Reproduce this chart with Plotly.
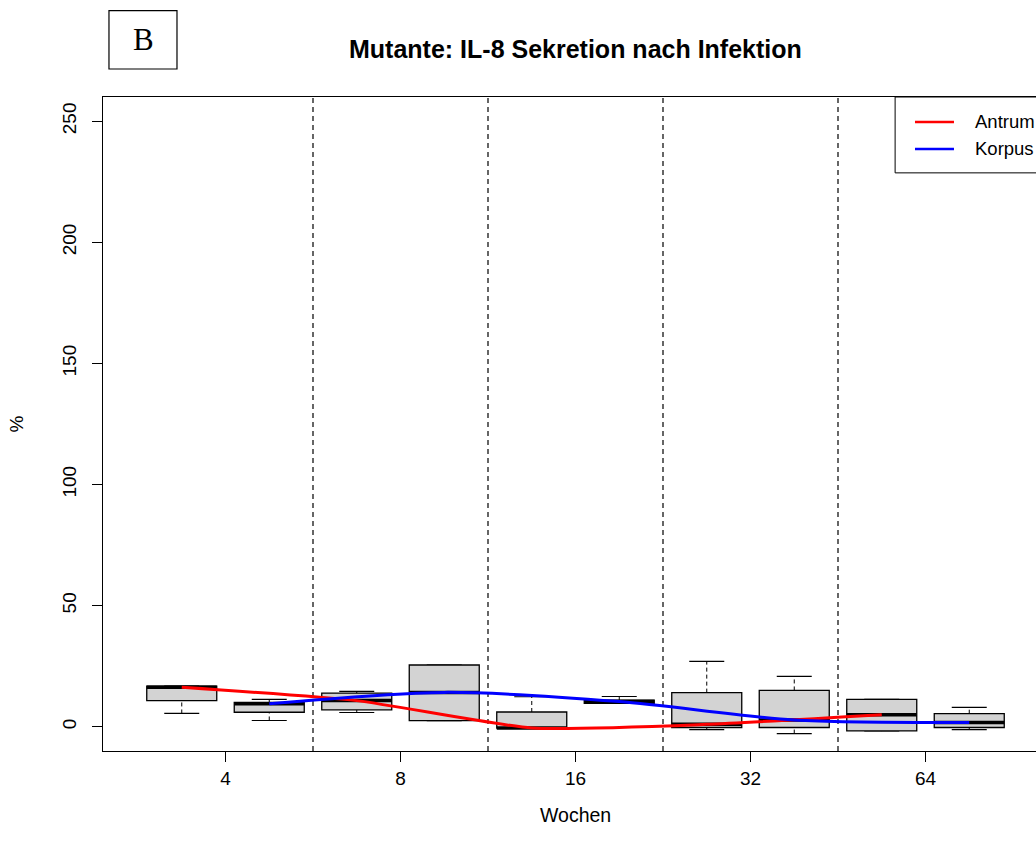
import plotly.graph_objects as go

# Box statistics (%), IL-8 secretion per week and tissue
weeks = ["4", "8", "16", "32", "64"]
tissues = ["Antrum", "Korpus"]

antrum_lower = [5.5, 5.9, -0.5, -1.2, -1.7]
antrum_q1 = [10.8, 7.0, -0.5, -0.3, -1.7]
antrum_median = [16.3, 10.8, -0.5, 1.0, 5.0]
antrum_q3 = [16.8, 13.9, 6.1, 14.1, 11.3]
antrum_upper = [16.8, 14.6, 12.4, 27.0, 11.3]

korpus_lower = [2.6, 2.5, 9.7, -2.8, -1.2]
korpus_q1 = [6.0, 2.5, 9.7, -0.3, -0.3]
korpus_median = [9.5, 14.2, 10.4, 2.8, 1.8]
korpus_q3 = [10.1, 25.5, 11.0, 15.0, 5.4]
korpus_upper = [11.3, 25.5, 12.5, 20.8, 8.0]

y_ticks = [0, 50, 100, 150, 200, 250]

FONT = "Liberation Sans, Arial, Helvetica, sans-serif"
BOX_FILL = "#d3d3d3"
BOX_HALF = 0.4
CAP_HALF = 0.2

n_groups = len(weeks)
n_boxes = 2 * n_groups
pos_antrum = [2 * i + 1 for i in range(n_groups)]
pos_korpus = [2 * i + 2 for i in range(n_groups)]

# x limits as in base graphics: (0.5, n+0.5) extended by 4 %
x_lo = 0.5 - 0.04 * n_boxes
x_hi = n_boxes + 0.5 + 0.04 * n_boxes
# the page only shows the first 933 of 945 px of the plot region
x_view_hi = x_lo + (x_hi - x_lo) * 933 / 945
y_lo, y_hi = 0 - 0.04 * 250, 250 + 0.04 * 250

shapes = []


def add_box(pos, lo, q1, med, q3, hi):
    # dashed whiskers
    for a, b in ((lo, q1), (q3, hi)):
        shapes.append(dict(type="line", xref="x", yref="y", x0=pos, x1=pos, y0=a, y1=b,
                           line=dict(color="black", width=1, dash="4px,3px"), layer="below"))
    # staples
    for v in (lo, hi):
        shapes.append(dict(type="line", xref="x", yref="y", x0=pos - CAP_HALF, x1=pos + CAP_HALF,
                           y0=v, y1=v, line=dict(color="black", width=1.2), layer="below"))
    # box body
    shapes.append(dict(type="rect", xref="x", yref="y", x0=pos - BOX_HALF, x1=pos + BOX_HALF,
                       y0=q1, y1=q3, fillcolor=BOX_FILL,
                       line=dict(color="black", width=1.3), layer="below"))
    # median bar
    shapes.append(dict(type="line", xref="x", yref="y", x0=pos - BOX_HALF, x1=pos + BOX_HALF,
                       y0=med, y1=med, line=dict(color="black", width=3.5), layer="below"))


for i in range(n_groups):
    add_box(pos_antrum[i], antrum_lower[i], antrum_q1[i], antrum_median[i], antrum_q3[i], antrum_upper[i])
    add_box(pos_korpus[i], korpus_lower[i], korpus_q1[i], korpus_median[i], korpus_q3[i], korpus_upper[i])

# dashed separators between the week groups
for i in range(1, n_groups):
    xs = 2 * i + 0.5
    shapes.append(dict(type="line", xref="x", yref="paper", x0=xs, x1=xs, y0=0, y1=1,
                       line=dict(color="black", width=1.2, dash="5px,4px"), layer="below"))

# legend frame (runs off the right edge of the page)
shapes.append(dict(type="rect", xref="paper", yref="paper", x0=0.849, x1=1.08, y0=0.884, y1=1.0,
                   line=dict(color="black", width=1), fillcolor="white", layer="below"))
legend_colors = ["red", "blue"]
legend_y = [0.9618, 0.9205]
for c, yy in zip(legend_colors, legend_y):
    shapes.append(dict(type="line", xref="paper", yref="paper", x0=0.8703, x1=0.9121, y0=yy, y1=yy,
                       line=dict(color=c, width=2.5)))

# panel letter box
shapes.append(dict(type="rect", xref="paper", yref="paper", x0=0.0064, x1=0.0793, y0=1.0428, y1=1.132,
                   line=dict(color="black", width=1.2)))

fig = go.Figure()
fig.add_trace(go.Scatter(x=pos_antrum, y=antrum_median, mode="lines", name=tissues[0],
                         line=dict(color="red", width=3, shape="spline", smoothing=0.55),
                         showlegend=False))
fig.add_trace(go.Scatter(x=pos_korpus, y=korpus_median, mode="lines", name=tissues[1],
                         line=dict(color="blue", width=3, shape="spline", smoothing=0.8),
                         showlegend=False))

annotations = [
    dict(text="<b>Mutante: IL-8 Sekretion nach Infektion</b>", xref="paper", yref="paper",
         x=0.5064, y=1.074, xanchor="center", yanchor="middle", showarrow=False,
         font=dict(family=FONT, size=25, color="black")),
    dict(text="Wochen", xref="paper", yref="paper", x=0.5064, y=-0.0979,
         xanchor="center", yanchor="middle", showarrow=False,
         font=dict(family=FONT, size=19.5, color="black")),
    dict(text="B", xref="paper", yref="paper", x=0.0429, y=1.0874,
         xanchor="center", yanchor="middle", showarrow=False,
         font=dict(family="Liberation Serif, Times New Roman, serif", size=31, color="black")),
]
for t, yy in zip(tissues, legend_y):
    annotations.append(dict(text=t, xref="paper", yref="paper", x=0.9325, y=yy,
                            xanchor="left", yanchor="middle", showarrow=False,
                            font=dict(family=FONT, size=18.5, color="black")))

fig.update_layout(
    width=1036, height=852,
    margin=dict(l=103, r=0, t=97, b=101, pad=0),
    paper_bgcolor="white", plot_bgcolor="white",
    font=dict(family=FONT, size=19, color="black"),
    shapes=shapes, annotations=annotations,
    showlegend=False,
    xaxis=dict(range=[x_lo, x_view_hi], showgrid=False, zeroline=False,
               showline=True, mirror=True, linecolor="black", linewidth=1,
               tickmode="array", tickvals=[2 * i + 1.5 for i in range(n_groups)], ticktext=weeks,
               ticks="outside", ticklen=10, tickcolor="black", tickwidth=1,
               ticklabelstandoff=0, tickfont=dict(family=FONT, size=19)),
    yaxis=dict(range=[y_lo, y_hi], showgrid=False, zeroline=False,
               showline=True, mirror=False, linecolor="black", linewidth=1,
               tickmode="array", tickvals=y_ticks, ticktext=[str(v) for v in y_ticks],
               ticks="outside", ticklen=10, tickcolor="black", tickwidth=1, tickangle=-90,
               ticklabelstandoff=8, tickfont=dict(family=FONT, size=19),
               title=dict(text="%", font=dict(family=FONT, size=19), standoff=30)),
)

fig.write_html("out.html")
